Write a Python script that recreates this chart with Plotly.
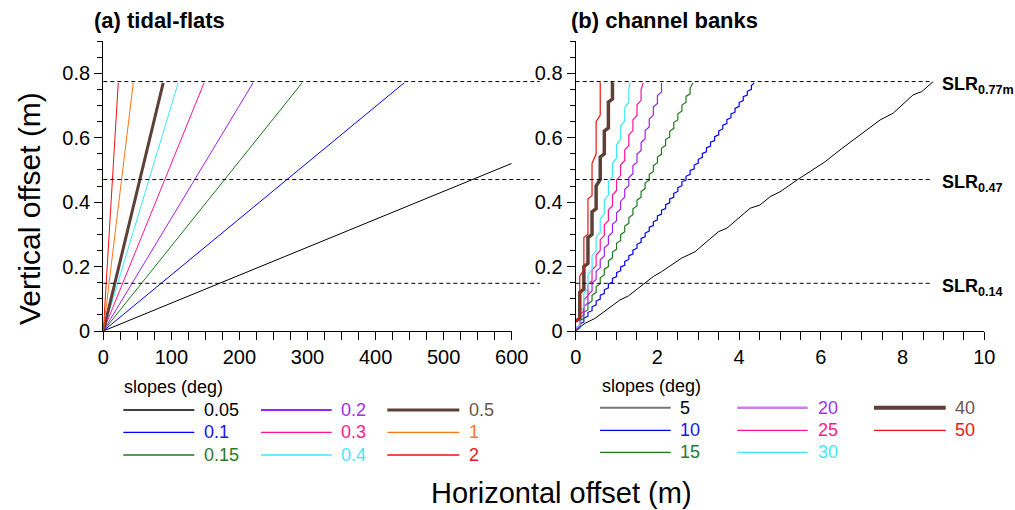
import plotly.graph_objects as go

W, H = 1015, 510
FONT = "Arial, Liberation Sans, sans-serif"

# ---------------- Panel (a) tidal-flats : straight profiles ----------------
A_SLOPES = ["0.05", "0.1", "0.15", "0.2", "0.3", "0.4", "0.5", "1", "2"]
A_X_END = [600, 442, 292, 220, 148, 110, 88, 44, 22]          # m
A_Y_END = [0.52, 0.77, 0.77, 0.77, 0.77, 0.77, 0.77, 0.77, 0.77]  # m

# ---------------- Panel (b) channel banks : stepped profiles ----------------
B_SLOPES = ["5", "10", "15", "20", "25", "30", "40", "50"]

B5_X = [0.0, 0.06, 0.23, 0.47, 1.08, 1.29, 1.9, 2.1, 2.59, 2.92, 3.49, 3.7, 4.27,
        4.51, 4.76, 5.0, 5.42, 5.9, 6.1, 6.5, 7.0, 7.45, 7.77, 8.26, 8.47, 8.75]
B5_Y = [0.0, 0.008, 0.024, 0.039, 0.096, 0.109, 0.169, 0.184, 0.226, 0.246, 0.308,
        0.319, 0.381, 0.391, 0.417, 0.432, 0.469, 0.51, 0.525, 0.565, 0.612, 0.655,
        0.676, 0.733, 0.743, 0.774]

RISER_X = [0.1, 0.2, 0.3, 0.4, 0.5, 0.6, 0.7, 0.8, 0.9, 1.0, 1.1, 1.2, 1.3, 1.4, 1.5,
           1.6, 1.7, 1.8, 1.9, 2.0, 2.1, 2.2, 2.3, 2.4, 2.5, 2.6, 2.7, 2.8, 2.9, 3.0,
           3.1, 3.2, 3.3, 3.4, 3.5, 3.6, 3.7, 3.8, 3.9, 4.0, 4.1, 4.2, 4.3]

B10_BOT = [0.010, 0.028, 0.046, 0.063, 0.081, 0.099, 0.116, 0.134, 0.151, 0.169, 0.187,
           0.204, 0.222, 0.239, 0.257, 0.275, 0.292, 0.310, 0.327, 0.345, 0.363, 0.380,
           0.398, 0.415, 0.433, 0.451, 0.468, 0.486, 0.503, 0.521, 0.539, 0.556, 0.574,
           0.591, 0.609, 0.627, 0.644, 0.662, 0.679, 0.697, 0.715, 0.732, 0.750]
B10_TOP = [0.022, 0.040, 0.058, 0.075, 0.093, 0.111, 0.128, 0.146, 0.163, 0.181, 0.199,
           0.216, 0.234, 0.251, 0.269, 0.287, 0.304, 0.322, 0.339, 0.357, 0.375, 0.392,
           0.410, 0.427, 0.445, 0.463, 0.480, 0.498, 0.515, 0.533, 0.551, 0.568, 0.586,
           0.603, 0.621, 0.639, 0.656, 0.674, 0.691, 0.709, 0.727, 0.744, 0.762]
B15_BOT = [0.013, 0.040, 0.066, 0.093, 0.120, 0.147, 0.174, 0.200, 0.227, 0.254, 0.281,
           0.308, 0.334, 0.361, 0.388, 0.415, 0.442, 0.468, 0.495, 0.522, 0.549, 0.576,
           0.602, 0.629, 0.656, 0.683, 0.710, 0.736]
B15_TOP = [0.031, 0.058, 0.084, 0.111, 0.138, 0.165, 0.192, 0.218, 0.245, 0.272, 0.299,
           0.326, 0.352, 0.379, 0.406, 0.433, 0.460, 0.486, 0.513, 0.540, 0.567, 0.594,
           0.620, 0.647, 0.674, 0.701, 0.728, 0.754]
B20_BOT = [0.014, 0.051, 0.087, 0.124, 0.160, 0.196, 0.233, 0.269, 0.306, 0.342, 0.378,
           0.415, 0.451, 0.488, 0.524, 0.560, 0.597, 0.633, 0.670, 0.706, 0.742]
B20_TOP = [0.039, 0.076, 0.112, 0.149, 0.185, 0.221, 0.258, 0.294, 0.331, 0.367, 0.403,
           0.440, 0.476, 0.513, 0.549, 0.585, 0.622, 0.658, 0.695, 0.731, 0.770]
B25_BOT = [0.017, 0.063, 0.110, 0.156, 0.203, 0.250, 0.296, 0.343, 0.389, 0.436, 0.483,
           0.529, 0.576, 0.622, 0.669, 0.716]
B25_TOP = [0.050, 0.096, 0.143, 0.189, 0.236, 0.283, 0.329, 0.376, 0.422, 0.469, 0.516,
           0.562, 0.609, 0.655, 0.702, 0.749]
B30_BOT = [0.018, 0.075, 0.133, 0.191, 0.249, 0.306, 0.364, 0.422, 0.479, 0.537, 0.595,
           0.652, 0.710]
B30_TOP = [0.060, 0.117, 0.175, 0.233, 0.291, 0.348, 0.406, 0.464, 0.521, 0.579, 0.637,
           0.694, 0.752]
B40_BOT = [0.04, 0.13, 0.21, 0.30, 0.38, 0.47, 0.55, 0.63, 0.72]
B40_TOP = [0.12, 0.20, 0.29, 0.37, 0.45, 0.54, 0.62, 0.71, 0.77]
B50_BOT = [0.045, 0.19, 0.30, 0.42, 0.55, 0.67]
B50_TOP = [0.17, 0.29, 0.41, 0.52, 0.65, 0.77]

B_START_Y = [0.0, 0.0, 0.005, 0.01, 0.01, 0.03, 0.03]   # for 10..50
B_END_X = [4.37, 2.87, 2.1, 1.65, 1.33, 0.92, 0.61]
B_END_Y = [0.77, 0.77, 0.77, 0.77, 0.77, 0.77, 0.77]

# sea level rise reference levels
SLR_LEVELS = [0.774, 0.47, 0.148]
SLR_LABELS = ["0.77m", "0.47", "0.14"]

# ---------------- styles ----------------
A_COLORS = ["#000000", "#0000ff", "#1f7a1f", "#a020f0", "#ff1493", "#3ee8f8",
            "#5d4037", "#ff7518", "#ee1111"]
A_TEXT = ["#000000", "#1515f0", "#2a7a2a", "#a030e0", "#ff1a8c", "#44e8f8",
          "#6d5550", "#ff7a20", "#e81818"]
A_WIDTH = [1, 1, 1, 1, 1, 1, 3, 1, 1]
A_LEG_WIDTH = [1.3, 1.3, 1.3, 2, 1.3, 1.3, 3, 1.3, 1.3]

B_COLORS = ["#000000", "#0000ff", "#1f7a1f", "#a020f0", "#ff1493", "#3ee8f8",
            "#5d4037", "#ee1111"]
B_TEXT = ["#000000", "#1515f0", "#2a7a2a", "#a030e0", "#ff1a8c", "#44e8f8",
          "#6d5550", "#e81818"]
B_WIDTH = [1, 1.2, 1.2, 1.2, 1.2, 1.2, 3.5, 1.2]
B_LEG_COLORS = ["#777777", "#0000ff", "#1f7a1f", "#c880f0", "#ff1493", "#3ee8f8",
                "#5d4037", "#ee1111"]
B_LEG_WIDTH = [2, 1.3, 1.3, 2.5, 1.3, 1.3, 4, 1.3]

fig = go.Figure()

# panel (a) traces
for i, s in enumerate(A_SLOPES):
    fig.add_trace(go.Scatter(x=[0, A_X_END[i]], y=[0, A_Y_END[i]], mode="lines",
                             line=dict(color=A_COLORS[i], width=A_WIDTH[i]),
                             xaxis="x", yaxis="y", showlegend=False, name=s))

# panel (b) traces
fig.add_trace(go.Scatter(x=B5_X, y=B5_Y, mode="lines",
                         line=dict(color=B_COLORS[0], width=B_WIDTH[0]),
                         xaxis="x2", yaxis="y2", showlegend=False, name="5"))
stairs = [(B10_BOT, B10_TOP), (B15_BOT, B15_TOP), (B20_BOT, B20_TOP),
          (B25_BOT, B25_TOP), (B30_BOT, B30_TOP), (B40_BOT, B40_TOP),
          (B50_BOT, B50_TOP)]
for j, (bots, tops) in enumerate(stairs):
    xs, ys = [0.0], [B_START_Y[j]]
    for rx, b, t in zip(RISER_X, bots, tops):
        xs += [rx, rx]
        ys += [b, t]
    xs.append(B_END_X[j])
    ys.append(B_END_Y[j])
    k = j + 1
    fig.add_trace(go.Scatter(x=xs, y=ys, mode="lines",
                             line=dict(color=B_COLORS[k], width=B_WIDTH[k]),
                             xaxis="x2", yaxis="y2", showlegend=False,
                             name=B_SLOPES[k]))

# ---------------- layout geometry (pixels) ----------------
def px(x):
    return x / W

def py(y):
    return 1 - y / H

AX_A = [px(103.3), px(511.7)]
AX_B = [px(575.7), px(984.3)]
AX_Y = [py(331), py(41)]

axis_common = dict(showgrid=False, zeroline=False, showline=True, linecolor="black",
                   linewidth=1.3, ticks="outside", tickcolor="black", tickwidth=1.3,
                   automargin=False,
                   tickfont=dict(family=FONT, size=20, color="black"))
minor_x = dict(ticklen=8, ticks="outside", tickcolor="black", tickwidth=1.3)
minor_y = dict(ticklen=5, ticks="outside", tickcolor="black", tickwidth=1.3)

fig.update_layout(
    template="none",
    width=W, height=H, margin=dict(l=0, r=0, t=0, b=0, autoexpand=False),
    paper_bgcolor="white", plot_bgcolor="white", showlegend=False,
    xaxis=dict(domain=AX_A, range=[0, 600], anchor="y", dtick=100, ticklen=8,
               minor=dict(dtick=25, **minor_x), **axis_common),
    yaxis=dict(domain=AX_Y, range=[0, 0.9], anchor="x", ticklen=8,
               tickvals=[0, 0.2, 0.4, 0.6, 0.8], ticktext=["0", "0.2", "0.4", "0.6", "0.8"],
               minor=dict(dtick=0.05, **minor_y), **axis_common),
    xaxis2=dict(domain=AX_B, range=[0, 10], anchor="y2", dtick=2, ticklen=8,
                minor=dict(dtick=0.5, **minor_x), **axis_common),
    yaxis2=dict(domain=AX_Y, range=[0, 0.9], anchor="x2", ticklen=8,
                tickvals=[0, 0.2, 0.4, 0.6, 0.8], ticktext=["0", "0.2", "0.4", "0.6", "0.8"],
                minor=dict(dtick=0.05, **minor_y), **axis_common),
)

shapes = []
annotations = []

# SLR dashed levels
for lev, lab in zip(SLR_LEVELS, SLR_LABELS):
    shapes.append(dict(type="line", xref="x domain", yref="y", x0=0, x1=1.069,
                       y0=lev, y1=lev, line=dict(color="black", width=1, dash="4px,3px")))
    shapes.append(dict(type="line", xref="x2 domain", yref="y2", x0=0, x1=0.867,
                       y0=lev, y1=lev, line=dict(color="black", width=1, dash="4px,3px")))
    annotations.append(dict(xref="paper", yref="y2", x=px(940), y=lev, xanchor="left",
                            yanchor="middle", yshift=-4, showarrow=False,
                            text="<b>SLR<sub>%s</sub></b>" % lab,
                            font=dict(family=FONT, size=18, color="black")))

# panel titles
annotations.append(dict(xref="paper", yref="paper", x=px(92), y=py(21), xanchor="left",
                        yanchor="middle", showarrow=False, text="<b>(a) tidal-flats</b>",
                        font=dict(family=FONT, size=22, color="black")))
annotations.append(dict(xref="paper", yref="paper", x=px(569), y=py(21), xanchor="left",
                        yanchor="middle", showarrow=False, text="<b>(b) channel banks</b>",
                        font=dict(family=FONT, size=22, color="black")))

# axis titles
annotations.append(dict(xref="paper", yref="paper", x=px(29), y=py(209), xanchor="center",
                        yanchor="middle", showarrow=False, textangle=-90,
                        text="Vertical offset (m)",
                        font=dict(family=FONT, size=30, color="black")))
annotations.append(dict(xref="paper", yref="paper", x=px(561), y=py(493), xanchor="center",
                        yanchor="middle", showarrow=False, text="Horizontal offset (m)",
                        font=dict(family=FONT, size=29, color="black")))

# custom legends
def add_legend(title_x, title_y, line_x0, line_x1, text_x, rows, labels, lcolors,
               lwidths, tcolors):
    annotations.append(dict(xref="paper", yref="paper", x=px(title_x), y=py(title_y),
                            xanchor="left", yanchor="middle", showarrow=False,
                            text="slopes (deg)",
                            font=dict(family=FONT, size=18, color="black")))
    for i, lab in enumerate(labels):
        c, r = i // 3, i % 3
        yy = py(rows[r])
        shapes.append(dict(type="line", xref="paper", yref="paper",
                           x0=px(line_x0[c]), x1=px(line_x1[c]), y0=yy, y1=yy,
                           line=dict(color=lcolors[i], width=lwidths[i])))
        annotations.append(dict(xref="paper", yref="paper", x=px(text_x[c]), y=yy,
                                xanchor="left", yanchor="middle", showarrow=False,
                                text=lab, font=dict(family=FONT, size=18, color=tcolors[i])))

add_legend(121.5, 386.5, [123.3, 261, 387.3], [194.3, 331.7, 459.3], [201.5, 339, 466.5],
           [410, 432.3, 455], A_SLOPES, A_COLORS, A_LEG_WIDTH, A_TEXT)
add_legend(600, 386, [600, 737.3, 874], [670.7, 807.7, 945.7], [678, 815.5, 952.5],
           [407.7, 430.3, 452.3], B_SLOPES, B_LEG_COLORS, B_LEG_WIDTH, B_TEXT)

fig.update_layout(shapes=shapes, annotations=annotations)

fig.write_html("out.html")
